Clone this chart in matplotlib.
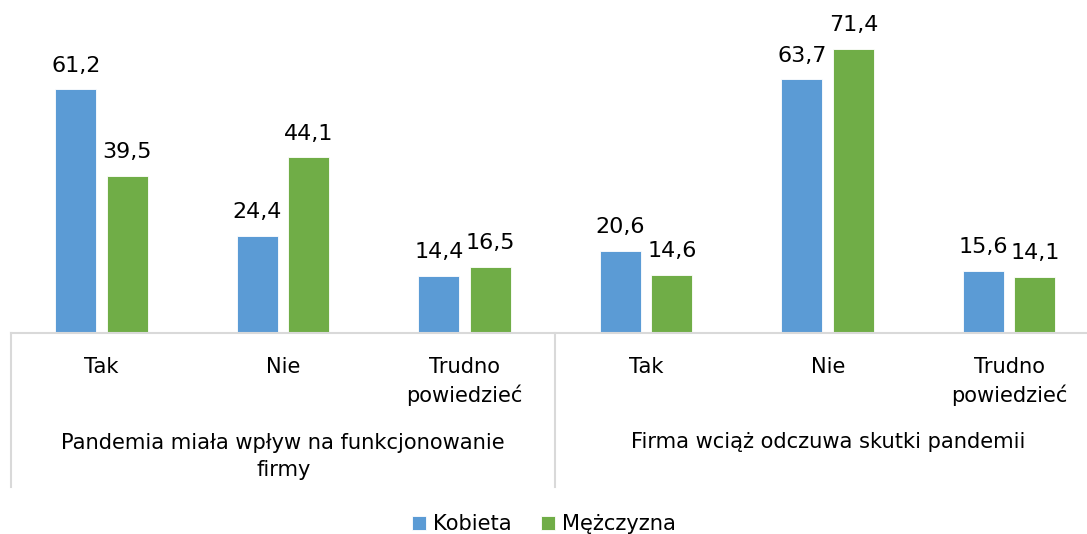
import numpy as np
import matplotlib.pyplot as plt

# data
groups = ['Pandemia miała wpływ na funkcjonowanie\nfirmy',
          'Firma wciąż odczuwa skutki pandemii']
answers = ['Tak', 'Nie', 'Trudno\npowiedzieć']
kobieta = [61.2, 24.4, 14.4, 20.6, 63.7, 15.6]
mezczyzna = [39.5, 44.1, 16.5, 14.6, 71.4, 14.1]
series_names = ['Kobieta', 'Mężczyzna']

BLUE = '#5B9BD5'
GREEN = '#70AD47'
GRID = '#D9D9D9'
FS = 15.1

plt.rcParams['font.family'] = ['Verdana', 'DejaVu Sans']

fig = plt.figure(figsize=(10.87, 5.34), dpi=100)
# the plot area runs a bit past the right edge, like in the source picture
ax = fig.add_axes([0.0101, 0.3764, 1.0018, 0.5963])

x = np.arange(len(kobieta))
w = 0.226
off = 0.142
b1 = ax.bar(x - off, kobieta, w, color=BLUE, edgecolor='white', linewidth=0.6, label=series_names[0])
b2 = ax.bar(x + off, mezczyzna, w, color=GREEN, edgecolor='white', linewidth=0.6, label=series_names[1])

for bars, vals in ((b1, kobieta), (b2, mezczyzna)):
    for r, v in zip(bars, vals):
        ax.annotate(f'{v:.1f}'.replace('.', ','), (r.get_x() + r.get_width() / 2, v),
                    xytext=(0, 10), textcoords='offset points',
                    ha='center', va='bottom', fontsize=16)

ax.set_xlim(-0.5, len(x) - 0.5)
ax.set_ylim(0, 80)
for s in ['top', 'right', 'left']:
    ax.spines[s].set_visible(False)
ax.spines['bottom'].set_color(GRID)
ax.spines['bottom'].set_linewidth(1.5)
ax.set_yticks([])
ax.set_xticks([])

trans = ax.get_xaxis_transform()
# category labels
labels = answers * len(groups)
for i, lab in enumerate(labels):
    yc = -0.107 if '\n' not in lab else -0.153
    ax.text(i, yc, lab, transform=trans, ha='center', va='center', fontsize=FS, linespacing=1.45)

# group labels
ax.text(1, -0.389, groups[0], transform=trans, ha='center', va='center', fontsize=FS, linespacing=1.45)
ax.text(4, -0.343, groups[1], transform=trans, ha='center', va='center', fontsize=FS, linespacing=1.45)

# separators
for xs in (-0.5, 2.5, 5.5):
    ax.plot([xs, xs], [0, -0.485], transform=trans, color=GRID, lw=1.5, clip_on=False)

fig.legend(handles=[b1, b2], labels=series_names, loc='center', bbox_to_anchor=(0.5, 0.018),
           ncol=2, frameon=False, fontsize=FS, handlelength=0.7, handleheight=0.7,
           handletextpad=0.3, columnspacing=1.4)

fig.savefig('out.png', dpi=100)
